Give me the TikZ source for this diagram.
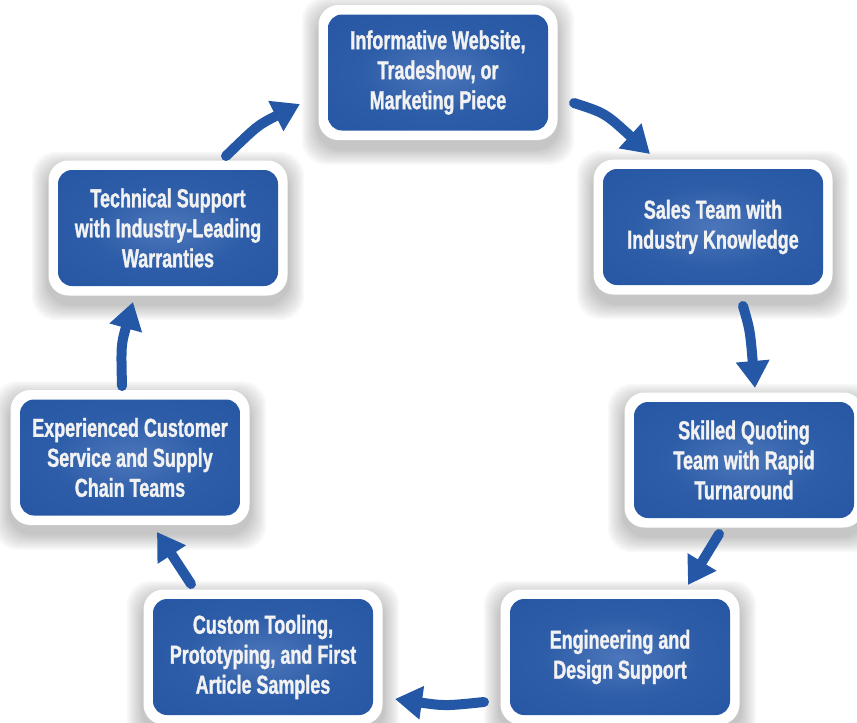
\documentclass[tikz,border=0pt]{standalone}
\usepackage{fontspec}
\newfontfamily\boxfont[FakeStretch=0.69,FakeBold=1.2]{Liberation Sans}
\usetikzlibrary{arrows.meta,calc}
\definecolor{boxedge}{HTML}{1E4B92}
\definecolor{boxmid}{HTML}{4C76BA}
\definecolor{boxmidb}{HTML}{2D5DA8}
\definecolor{boxmidc}{HTML}{2354A2}
\definecolor{arrowblue}{HTML}{2457A6}
\definecolor{txt}{HTML}{F2F2F2}
\pgfdeclareradialshading{boxshade}{\pgfpoint{0bp}{0bp}}{color(0bp)=(boxmid); color(18bp)=(boxmidb); color(45bp)=(boxmidc); color(71bp)=(boxedge)}
\tikzset{
  outerbox/.style={fill=white, rounded corners=20pt, minimum width=239pt, minimum height=135pt, inner sep=0pt},
  innerbox/.style={shading=boxshade, rounded corners=14pt, minimum width=220pt, minimum height=116pt, inner sep=0pt,
    text=txt, align=center, font=\boxfont\bfseries\fontsize{26}{30}\selectfont},
  arr/.style={draw=arrowblue, line width=10pt, line cap=round, -{Triangle[length=27pt,width=32pt]}},
}
\begin{document}
\begin{tikzpicture}[x=1pt,y=-1pt]
\useasboundingbox (0,0) rectangle (857,723);
\coordinate (c1) at (438,72.5);
\coordinate (c2) at (713,227);
\coordinate (c3) at (744,460);
\coordinate (c4) at (620,657);
\coordinate (c5) at (263,657);
\coordinate (c6) at (130,457.5);
\coordinate (c7) at (168,228);
% soft shadows
\foreach \c in {c1,c2,c3,c4,c5,c6,c7}{
  \foreach \i in {1,...,9}{
    \fill[black, opacity=0.028, rounded corners=24pt]
      ($(\c)+(-120-\i*1.8,-68-\i*1.8+8)$) rectangle ($(\c)+(120+\i*1.8,68+\i*1.8+8)$);
  }
}
% boxes
\node[outerbox] (o1) at (c1) {};
\node[outerbox] (o2) at (c2) {};
\node[outerbox] (o3) at (c3) {};
\node[outerbox] (o4) at (c4) {};
\node[outerbox] (o5) at (c5) {};
\node[outerbox] (o6) at (c6) {};
\node[outerbox] (o7) at (c7) {};
\node[innerbox] (b1) at (c1) {Informative Website,\\Tradeshow, or\\Marketing Piece};
\node[innerbox] (b2) at (c2) {Sales Team with\\Industry Knowledge};
\node[innerbox] (b3) at (c3) {Skilled Quoting\\Team with Rapid\\Turnaround};
\node[innerbox] (b4) at (c4) {Engineering and\\Design Support};
\node[innerbox] (b5) at (c5) {Custom Tooling,\\Prototyping, and First\\Article Samples};
\node[innerbox] (b6) at (c6) {Experienced Customer\\Service and Supply\\Chain Teams};
\node[innerbox] (b7) at (c7) {Technical Support\\with Industry-Leading\\Warranties};
% arrow end points
\coordinate (a1s) at (574,103); \coordinate (a1e) at (650,154);
\coordinate (a2s) at (743,306); \coordinate (a2e) at (755,388);
\coordinate (a3s) at (719,534); \coordinate (a3e) at (688,585);
\coordinate (a4s) at (484,702); \coordinate (a4e) at (395,699);
\coordinate (a5s) at (191,584); \coordinate (a5e) at (157,532);
\coordinate (a6s) at (122,386); \coordinate (a6e) at (133,302);
\coordinate (a7s) at (226,156); \coordinate (a7e) at (300,104);
% arrows
\draw[arr] (a1s) .. controls (605,113) .. (a1e);
\draw[arr] (a2s) .. controls (750,330) .. (a2e);
\draw[arr] (a3s) -- (a3e);
\draw[arr] (a4s) .. controls (445,706) .. (a4e);
\draw[arr] (a5s) -- (a5e);
\draw[arr] (a6s) .. controls (121,345) .. (a6e);
\draw[arr] (a7s) .. controls (258,125) .. (a7e);
\end{tikzpicture}
\end{document}
